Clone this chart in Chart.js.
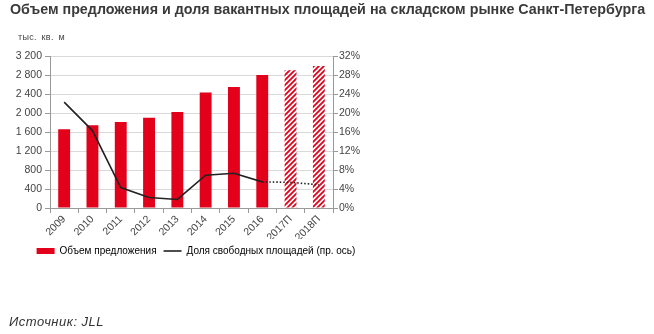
<!DOCTYPE html>
<html>
<head>
<meta charset="utf-8">
<script src="https://cdn.jsdelivr.net/npm/chart.js@4"></script>
<style>
  body { margin: 0; background: #fff; font-family: "Liberation Sans", Arial, sans-serif; }
  #wrap { position: relative; width: 654px; height: 334px; }
  #chart { position: absolute; left: 0; top: 0; }
  .title { position: absolute; left: 10px; top: 1px; font-size: 14.3px; font-weight: bold; color: #3a3a3a; white-space: nowrap; }
  .unit { position: absolute; left: 18px; top: 32px; font-size: 9px; color: #444; letter-spacing: 0.3px; word-spacing: 2px; }
  .source { position: absolute; left: 9px; top: 314px; font-size: 13px; letter-spacing: 0.5px; font-style: italic; color: #333; }
</style>
</head>
<body>
<div id="wrap">
  <canvas id="chart" width="654" height="334"></canvas>
  <div class="title">Объем предложения и доля вакантных площадей на складском рынке Санкт-Петербурга</div>
  <div class="unit">тыс. кв. м</div>
  <div class="source">Источник: JLL</div>
</div>
<script>
const years = ['2009', '2010', '2011', '2012', '2013', '2014', '2015', '2016', '2017П', '2018П'];
const supply = [1660, 1740, 1810, 1900, 2020, 2430, 2550, 2800, 2900, 2990];
const vacancy = [22.3, 16.3, 4.3, 2.2, 1.8, 6.9, 7.3, 5.5, 5.4, 4.9];
const forecastFrom = 8; // 2017П onwards

const RED = '#e2001a';

// diagonal stripes for forecast bars
function stripes() {
  const c = document.createElement('canvas');
  c.width = 5; c.height = 5;
  const g = c.getContext('2d');
  g.fillStyle = '#fff';
  g.fillRect(0, 0, 5, 5);
  g.strokeStyle = RED;
  g.lineWidth = 1.8;
  g.beginPath();
  g.moveTo(-1, 6); g.lineTo(6, -1);
  g.moveTo(-1, 1); g.lineTo(1, -1);
  g.moveTo(4, 6); g.lineTo(6, 4);
  g.stroke();
  return g.createPattern(c, 'repeat');
}
const hatch = stripes();

const tickFont = { family: '"Liberation Sans", Arial, sans-serif', size: 10.5 };
const legendFont = { family: '"Liberation Sans", Arial, sans-serif', size: 10 };

new Chart(document.getElementById('chart'), {
  data: {
    labels: years,
    datasets: [
      {
        type: 'line',
        label: 'Доля свободных площадей (пр. ось)',
        data: vacancy,
        yAxisID: 'y2',
        borderColor: '#222',
        borderWidth: 1.6,
        pointRadius: 0,
        tension: 0,
        segment: {
          borderDash: ctx => ctx.p0DataIndex >= forecastFrom - 1 ? [1.5, 2] : undefined
        },
        order: 0
      },
      {
        type: 'bar',
        label: 'Объем предложения',
        data: supply,
        yAxisID: 'y',
        backgroundColor: supply.map((v, i) => i >= forecastFrom ? hatch : RED),
        barPercentage: 0.42,
        categoryPercentage: 1,
        order: 1
      }
    ]
  },
  options: {
    responsive: false,
    animation: false,
    layout: { padding: { left: 0, right: 262, top: 56, bottom: 68 } },
    plugins: {
      tooltip: { enabled: false },
      legend: {
        position: 'bottom',
        labels: {
          usePointStyle: true,
          pointStyleWidth: 18,
          boxHeight: 6,
          padding: 7,
          color: '#444',
          font: legendFont,
          generateLabels: chart => [
            { text: 'Объем предложения', fillStyle: RED, strokeStyle: RED, lineWidth: 0, pointStyle: 'rect', datasetIndex: 1 },
            { text: 'Доля свободных площадей (пр. ось)', fillStyle: '#222', strokeStyle: '#222', lineWidth: 1.6, pointStyle: 'line', datasetIndex: 0 }
          ]
        }
      }
    },
    scales: {
      x: {
        offset: true,
        afterFit: s => { s.height = 31; },
        grid: { offset: true, drawOnChartArea: false, color: '#999', tickLength: 5 },
        border: { color: '#999' },
        ticks: { font: tickFont, color: '#444', minRotation: 45, maxRotation: 45, padding: 0 }
      },
      y: {
        position: 'left',
        min: 0, max: 3200,
        afterFit: s => { s.width = 50; },
        ticks: {
          stepSize: 400, font: tickFont, color: '#444', padding: 3,
          callback: v => String(v).replace(/\B(?=(\d{3})+(?!\d))/g, ' ')
        },
        grid: { color: '#d9d9d9', tickLength: 5, tickColor: '#999' },
        border: { color: '#999' }
      },
      y2: {
        position: 'right',
        min: 0, max: 32,
        afterFit: s => { s.width = 59; },
        ticks: { stepSize: 4, font: tickFont, color: '#444', padding: 1, callback: v => v + '%' },
        grid: { drawOnChartArea: false, tickLength: 5, color: '#999' },
        border: { color: '#999' }
      }
    }
  }
});
</script>
</body>
</html>
